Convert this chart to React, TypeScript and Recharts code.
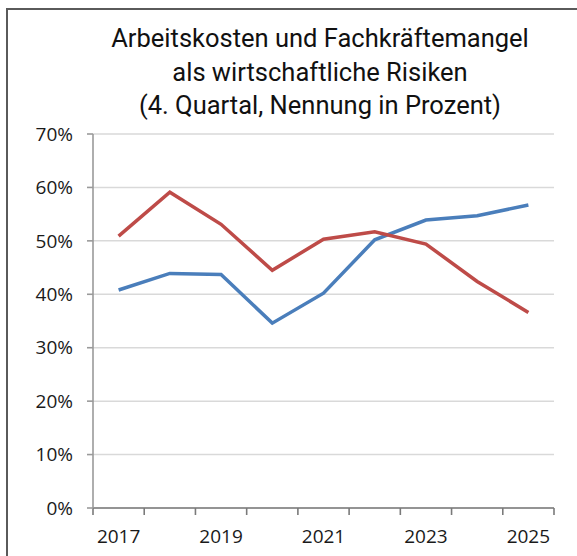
import { LineChart, Line, XAxis, YAxis, CartesianGrid } from 'recharts'

const years = [2017, 2018, 2019, 2020, 2021, 2022, 2023, 2024, 2025]
const blueValues = [40.8, 43.9, 43.7, 34.6, 40.2, 50.2, 53.9, 54.7, 56.7]
const redValues = [50.9, 59.1, 53.1, 44.5, 50.3, 51.7, 49.4, 42.4, 36.6]
const yTicks = [0, 10, 20, 30, 40, 50, 60, 70]
const labelYears = [2017, 2019, 2021, 2023, 2025]
const boundaryTicks = [2016.5, 2017.5, 2018.5, 2019.5, 2020.5, 2021.5, 2022.5, 2023.5, 2024.5, 2025.5]
const titleLines = [
  'Arbeitskosten und Fachkräftemangel',
  'als wirtschaftliche Risiken',
  '(4. Quartal, Nennung in Prozent)',
]

const data = years.map((year, i) => ({ year, blue: blueValues[i], red: redValues[i] }))

const FONT = '"Open Sans", sans-serif'
const AXIS_GREY = '#7a7a7a'

// boundary values get a small tick mark, whole years get a label
function XTick(props: any) {
  const { x, y, payload } = props
  const v = Number(payload.value)
  if (Math.round(v) !== v) {
    // y is the label position: axis + tickSize(6) + tickMargin(16)
    return <line x1={x} x2={x} y1={y - 22} y2={y - 15} stroke={AXIS_GREY} strokeWidth={1.6} />
  }
  return (
    <text x={x} y={y} dy="0.71em" textAnchor="middle" fontSize={19} fill="#1a1a1a" fontFamily={FONT}>
      {v}
    </text>
  )
}

function YTick(props: any) {
  const { x, y, payload } = props
  // x is the label end: axis - tickSize(6) - tickMargin(14)
  return (
    <g>
      <line x1={x + 14} x2={x + 20} y1={y} y2={y} stroke="#9a9a9a" strokeWidth={1.6} />
      <text x={x} y={y} dy="0.355em" textAnchor="end" fontSize={19} fill="#1a1a1a" fontFamily={FONT}>
        {`${payload.value}%`}
      </text>
    </g>
  )
}

export default function App() {
  return (
    <div
      style={{
        position: 'absolute',
        left: 0,
        top: 0,
        width: 577,
        height: 556,
        overflow: 'hidden',
        background: '#fff',
      }}
    >
      {/* frame, open to the right and bottom */}
      <div
        style={{
          position: 'absolute',
          left: 5.5,
          top: 7.5,
          width: 700,
          height: 700,
          borderLeft: '2px solid #5a5a5a',
          borderTop: '2px solid #5a5a5a',
        }}
      />
      <div
        style={{
          position: 'absolute',
          left: 70,
          top: 22,
          width: 500,
          textAlign: 'center',
          fontFamily: 'Roboto, sans-serif',
          fontSize: 25.5,
          lineHeight: '33.5px',
          color: '#111',
        }}
      >
        {titleLines.map((t) => (
          <div key={t}>{t}</div>
        ))}
      </div>
      <LineChart
        width={577}
        height={556}
        data={data}
        margin={{ top: 134, right: 23, bottom: 0, left: 0 }}
        style={{ position: 'absolute', left: 0, top: 0 }}
      >
        <CartesianGrid vertical={false} stroke="#d9d9d9" strokeWidth={1.5} />
        <XAxis
          dataKey="year"
          type="number"
          domain={[2016.5, 2025.5]}
          ticks={[...boundaryTicks, ...labelYears]}
          interval={0}
          tickLine={false}
          axisLine={{ stroke: AXIS_GREY, strokeWidth: 1.6 }}
          tickSize={6}
          tickMargin={16}
          tick={<XTick />}
          height={48}
        />
        <YAxis
          domain={[0, 70]}
          ticks={yTicks}
          interval={0}
          width={93}
          tickSize={6}
          tickMargin={14}
          tick={<YTick />}
          tickLine={false}
          axisLine={{ stroke: '#9a9a9a', strokeWidth: 1.6 }}
        />
        <Line dataKey="blue" stroke="#4a7ebb" strokeWidth={3.5} dot={false} isAnimationActive={false} />
        <Line dataKey="red" stroke="#be4b48" strokeWidth={3.5} dot={false} isAnimationActive={false} />
      </LineChart>
    </div>
  )
}
